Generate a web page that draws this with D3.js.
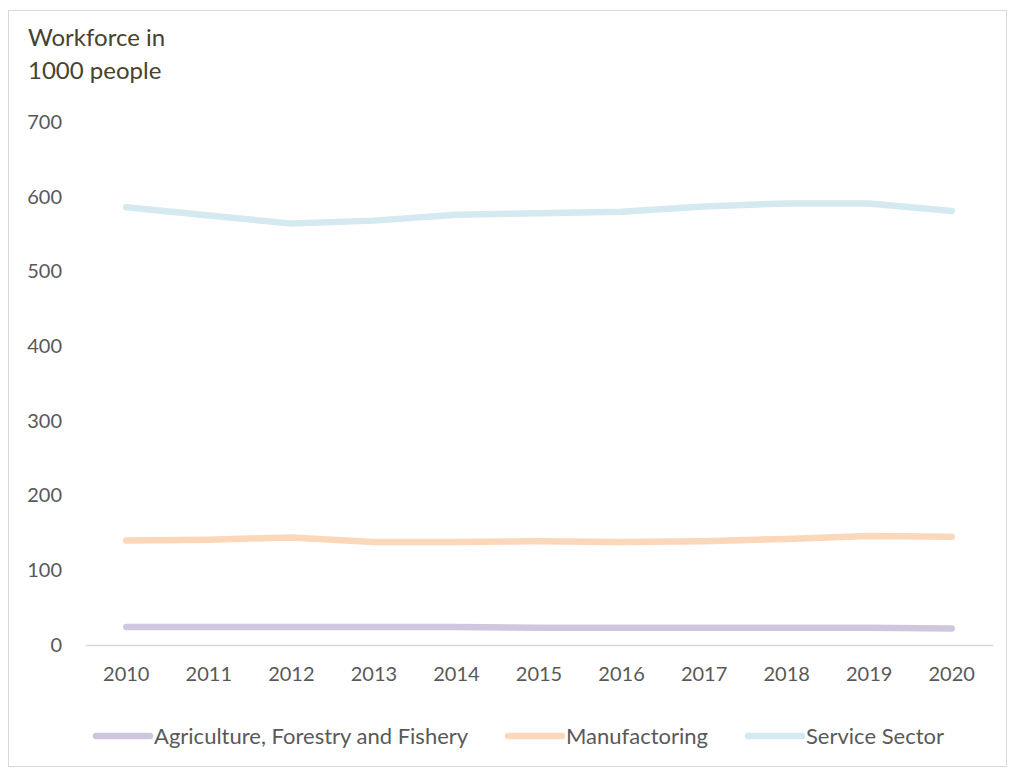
<!DOCTYPE html>
<html>
<head>
<meta charset="utf-8">
<script src="https://cdn.jsdelivr.net/npm/d3@7"></script>
<style>
  body { margin: 0; background: #fff; }
  text { font-family: Lato, "Open Sans", sans-serif; }
</style>
</head>
<body>
<div id="chart"></div>
<script>
// Chart data
const years = ["2010", "2011", "2012", "2013", "2014", "2015", "2016", "2017", "2018", "2019", "2020"];
const agriculture = [24, 24, 24, 24, 24, 23, 23, 23, 23, 23, 22];
const manufacturing = [140, 141, 144, 138, 138, 139, 138, 139, 142, 146, 145];
const services = [586, 575, 564, 568, 576, 578, 580, 587, 591, 591, 581];
const yTicks = [0, 100, 200, 300, 400, 500, 600, 700];

const seriesNames = ["Agriculture, Forestry and Fishery", "Manufactoring", "Service Sector"];
const seriesColors = ["#d0c6de", "#fcd8bb", "#d5e9f0"];
const seriesValues = [agriculture, manufacturing, services];

const width = 1010, height = 769;
const margin = { left: 85, right: 17, top: 122, bottom: 124 };

const svg = d3.select("#chart")
  .append("svg")
  .attr("width", width)
  .attr("height", height);

// Outer frame
svg.append("rect")
  .attr("x", 8.5).attr("y", 10.5)
  .attr("width", 998).attr("height", 756)
  .attr("fill", "none")
  .attr("stroke", "#d9d9d9");

const x = d3.scaleBand()
  .domain(years)
  .range([margin.left, width - margin.right]);

const y = d3.scaleLinear()
  .domain([0, 700])
  .range([height - margin.bottom, margin.top]);

// Axis title
svg.append("text")
  .attr("x", 28).attr("y", 46)
  .attr("font-size", 24).attr("fill", "#46432e")
  .text("Workforce in");
svg.append("text")
  .attr("x", 28).attr("y", 79)
  .attr("font-size", 24).attr("fill", "#46432e")
  .text("1000 people");

// Y axis labels (no line, no gridlines)
const yAxis = svg.append("g")
  .attr("transform", `translate(62,0)`)
  .call(d3.axisLeft(y).tickValues(yTicks).tickSize(0).tickPadding(0));
yAxis.select(".domain").remove();
yAxis.selectAll("text")
  .attr("font-size", 20)
  .attr("fill", "#595959")
  .style("font-family", "Lato, 'Open Sans', sans-serif");

// X axis
const xAxis = svg.append("g")
  .attr("transform", `translate(0,${y(0)})`)
  .call(d3.axisBottom(x).tickSize(0).tickPadding(22));
xAxis.select(".domain").attr("stroke", "#d9d9d9").attr("stroke-width", 1.3);
xAxis.selectAll("text")
  .attr("font-size", 20)
  .attr("fill", "#595959")
  .style("font-family", "Lato, 'Open Sans', sans-serif");

// Lines
const line = d3.line()
  .x((d, i) => x(years[i]) + x.bandwidth() / 2)
  .y(d => y(d));

svg.selectAll("path.series")
  .data(seriesValues)
  .enter()
  .append("path")
  .attr("class", "series")
  .attr("d", line)
  .attr("fill", "none")
  .attr("stroke", (d, i) => seriesColors[i])
  .attr("stroke-width", 6.5)
  .attr("stroke-linecap", "round")
  .attr("stroke-linejoin", "round");

// Legend
const legendX = [96, 508, 748];
const legend = svg.selectAll("g.legend")
  .data(seriesNames)
  .enter()
  .append("g")
  .attr("class", "legend")
  .attr("transform", (d, i) => `translate(${legendX[i]},736)`);

legend.append("line")
  .attr("x1", 0).attr("x2", 54)
  .attr("stroke", (d, i) => seriesColors[i])
  .attr("stroke-width", 6.5)
  .attr("stroke-linecap", "round");

legend.append("text")
  .attr("x", 58).attr("dy", "0.35em")
  .attr("font-size", 22)
  .attr("fill", "#595959")
  .text(d => d);
</script>
</body>
</html>
